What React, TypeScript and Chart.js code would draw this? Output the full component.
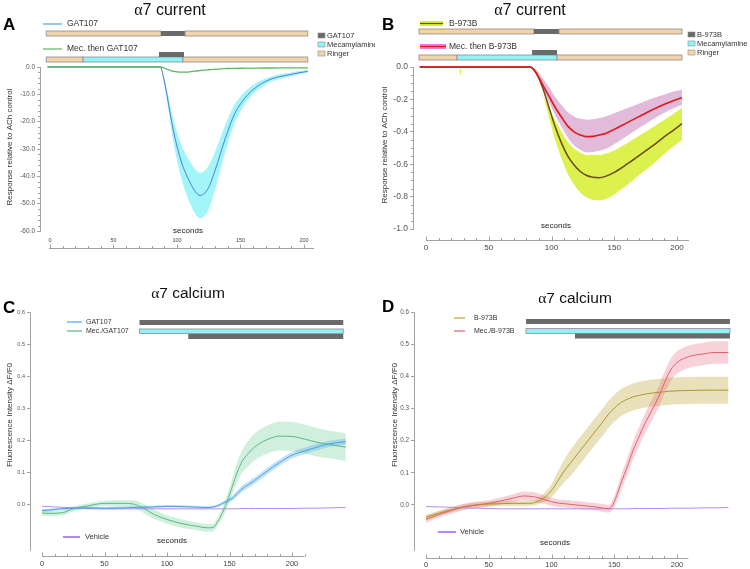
import React, { useEffect, useRef } from "react";
import { Chart, registerables } from "chart.js";

Chart.register(...registerables);

const SANS = '"Liberation Sans", Arial, Helvetica, sans-serif';
const SERIF = '"Liberation Serif", "DejaVu Serif", serif';
const AXIS = "#8a8a8a";
const RINGER = "#f3d3a8";
const MECA = "#8ff4f7";
const DRUG = "#6a6a6a";

// ---------------- Panel A : α7 current, GAT107 ----------------
const aTime = [-2, 20, 40, 60, 80, 87, 89, 92, 95, 97.5, 100, 104, 107, 110, 114, 118, 121, 125, 128, 132, 136, 140, 145, 150, 156, 162, 171, 180, 189, 196, 203];
const aGat107Mean = [0, 0, 0, 0, 0, 0, -3, -10, -18, -24, -29, -35.5, -39, -42, -45.3, -47, -46.5, -44, -40.5, -35, -29, -23.5, -17.5, -13.5, -10, -7.5, -5, -3.6, -2.8, -2.1, -1.6];
const aGat107Err = [0.3, 0.3, 0.3, 0.3, 0.3, 0.3, 0.8, 2, 3.3, 4.3, 5.2, 6.3, 7, 7.6, 8.1, 8.3, 8.3, 8, 7.4, 6.5, 5.5, 4.5, 3.5, 2.7, 2, 1.6, 1.1, 0.9, 0.7, 0.6, 0.5];
const aMecGat107Mean = [0, 0, 0, 0, 0, 0, -0.2, -0.8, -1.3, -1.6, -1.8, -1.9, -1.85, -1.75, -1.5, -1.3, -1.15, -1.0, -0.9, -0.75, -0.65, -0.55, -0.5, -0.45, -0.42, -0.4, -0.37, -0.35, -0.33, -0.31, -0.3];
const aYTicks = [0, -10, -20, -30, -40, -50, -60];
const aProtoGat = [["Ringer", -3, 87.4], ["Drug", 87.4, 106.3], ["Ringer", 106.3, 203]];
const aProtoMec = [["Ringer", -3, 26], ["Mecamylamine", 26, 104.7], ["Ringer", 104.7, 203]];
const aProtoMecDrug = [["Drug", 85.8, 105.5]];

// ---------------- Panel B : α7 current, B-973B ----------------
const bTime = [-5, 10, 26, 27.5, 29, 45, 65, 83, 88, 93, 98, 103, 108, 113, 118, 123, 128, 133, 138, 143, 150, 160, 170, 180, 190, 198, 204];
const bB973Mean = [0, 0, 0, 0, 0, 0, 0, 0, -0.04, -0.13, -0.25, -0.37, -0.47, -0.55, -0.605, -0.645, -0.67, -0.68, -0.683, -0.675, -0.65, -0.6, -0.545, -0.49, -0.43, -0.385, -0.35];
const bB973Err = [0.008, 0.008, 0.008, 0.05, 0.008, 0.008, 0.008, 0.008, 0.02, 0.04, 0.06, 0.08, 0.095, 0.11, 0.12, 0.13, 0.135, 0.14, 0.14, 0.14, 0.135, 0.13, 0.12, 0.115, 0.105, 0.1, 0.1];
const bMecB973Mean = [0, 0, 0, 0, 0, 0, 0, 0, -0.04, -0.11, -0.18, -0.25, -0.31, -0.365, -0.4, -0.42, -0.43, -0.428, -0.42, -0.41, -0.385, -0.345, -0.305, -0.265, -0.23, -0.205, -0.19];
const bMecB973Err = [0.01, 0.01, 0.01, 0.01, 0.01, 0.01, 0.01, 0.01, 0.02, 0.04, 0.055, 0.065, 0.075, 0.085, 0.095, 0.1, 0.105, 0.105, 0.105, 0.105, 0.1, 0.09, 0.08, 0.07, 0.06, 0.055, 0.05];
const bYTicks = [0, -0.2, -0.4, -0.6, -0.8, -1.0];
const bProtoB = [["Ringer", -5.6, 86], ["Drug", 86, 106], ["Ringer", 106, 204]];
const bProtoMec = [["Ringer", -5.6, 24.7], ["Mecamylamine", 24.7, 104.4], ["Ringer", 104.4, 204]];
const bProtoMecDrug = [["Drug", 84.5, 104.4]];

// ---------------- Panel C : α7 calcium, GAT107 ----------------
const cTime = [0, 5, 15, 25, 35, 50, 65, 73, 80, 90, 100, 112, 125, 132, 137, 140, 143, 146, 149, 152, 156, 160, 165, 170, 180, 190, 200, 210, 220, 230, 243];
const cMecGatMean = [-0.025, -0.026, -0.025, -0.012, -0.004, 0.005, 0.005, 0.003, -0.008, -0.03, -0.045, -0.058, -0.067, -0.071, -0.07, -0.055, -0.035, -0.01, 0.02, 0.055, 0.1, 0.135, 0.16, 0.18, 0.203, 0.214, 0.213, 0.205, 0.195, 0.188, 0.18];
const cMecGatErr = [0.008, 0.008, 0.008, 0.008, 0.008, 0.008, 0.01, 0.012, 0.014, 0.014, 0.013, 0.013, 0.012, 0.012, 0.012, 0.013, 0.015, 0.018, 0.02, 0.025, 0.03, 0.035, 0.04, 0.042, 0.044, 0.045, 0.045, 0.045, 0.044, 0.043, 0.043];
const cGatMean = [-0.017, -0.016, -0.012, -0.01, -0.009, -0.01, -0.009, -0.008, -0.007, -0.006, -0.004, -0.005, -0.007, -0.008, -0.006, -0.003, 0.002, 0.008, 0.014, 0.02, 0.035, 0.05, 0.063, 0.076, 0.105, 0.132, 0.155, 0.168, 0.18, 0.19, 0.197];
const cGatErr = [0.004, 0.004, 0.004, 0.004, 0.004, 0.004, 0.004, 0.004, 0.004, 0.004, 0.004, 0.004, 0.004, 0.004, 0.004, 0.004, 0.005, 0.006, 0.007, 0.008, 0.009, 0.01, 0.01, 0.01, 0.01, 0.01, 0.01, 0.01, 0.01, 0.01, 0.01];
const cVehicle = [-0.004, -0.005, -0.007, -0.009, -0.011, -0.012, -0.012, -0.012, -0.012, -0.012, -0.012, -0.012, -0.012, -0.012, -0.012, -0.012, -0.012, -0.012, -0.012, -0.012, -0.012, -0.011, -0.011, -0.011, -0.011, -0.011, -0.011, -0.01, -0.01, -0.009, -0.008];
const cdYTicks = [0, 0.1, 0.2, 0.3, 0.4, 0.5, 0.6];
const cProtoDrug = [["Drug", 78, 241]];
const cProtoMec = [["Mecamylamine", 78, 241]];
const cProtoMecDrug = [["Drug", 117, 241]];

// ---------------- Panel D : α7 calcium, B-973B ----------------
const dTime = [0, 10, 20, 30, 40, 50, 60, 70, 78, 85, 90, 95, 100, 105, 110, 115, 120, 125, 130, 135, 140, 145, 148, 152, 156, 160, 165, 170, 175, 180, 185, 190, 195, 200, 210, 220, 230, 241];
const dB973Mean = [-0.038, -0.026, -0.015, -0.006, 0.0, 0.003, 0.004, 0.005, 0.005, 0.006, 0.012, 0.025, 0.045, 0.075, 0.105, 0.13, 0.155, 0.18, 0.205, 0.23, 0.254, 0.28, 0.293, 0.308, 0.32, 0.328, 0.336, 0.341, 0.345, 0.348, 0.35, 0.352, 0.354, 0.355, 0.356, 0.357, 0.357, 0.357];
const dB973Err = [0.008, 0.008, 0.008, 0.008, 0.008, 0.008, 0.008, 0.008, 0.008, 0.008, 0.01, 0.015, 0.02, 0.028, 0.035, 0.04, 0.042, 0.042, 0.042, 0.042, 0.042, 0.042, 0.042, 0.042, 0.042, 0.042, 0.042, 0.042, 0.042, 0.042, 0.042, 0.042, 0.042, 0.042, 0.042, 0.042, 0.042, 0.042];
const dMecB973Mean = [-0.045, -0.03, -0.017, -0.006, 0.0, 0.005, 0.013, 0.022, 0.028, 0.026, 0.022, 0.016, 0.01, 0.006, 0.004, 0.002, 0.0, -0.002, -0.004, -0.006, -0.009, -0.012, -0.005, 0.03, 0.075, 0.115, 0.17, 0.215, 0.258, 0.295, 0.333, 0.38, 0.42, 0.443, 0.462, 0.469, 0.474, 0.474];
const dMecB973Err = [0.01, 0.01, 0.01, 0.01, 0.01, 0.01, 0.011, 0.012, 0.014, 0.014, 0.014, 0.013, 0.013, 0.012, 0.012, 0.012, 0.012, 0.012, 0.012, 0.012, 0.012, 0.012, 0.014, 0.02, 0.024, 0.026, 0.028, 0.03, 0.031, 0.032, 0.033, 0.034, 0.035, 0.035, 0.035, 0.035, 0.035, 0.035];
const dVehicle = [-0.005, -0.006, -0.007, -0.009, -0.01, -0.011, -0.012, -0.012, -0.012, -0.012, -0.012, -0.012, -0.012, -0.012, -0.012, -0.012, -0.012, -0.012, -0.012, -0.012, -0.012, -0.012, -0.012, -0.012, -0.012, -0.012, -0.011, -0.011, -0.011, -0.011, -0.011, -0.011, -0.01, -0.01, -0.01, -0.009, -0.009, -0.008];
const dProtoDrug = [["Drug", 79.7, 242.2]];
const dProtoMec = [["Mecamylamine", 79.7, 242.2]];
const dProtoMecDrug = [["Drug", 118.7, 242.2]];

const xTickLabels = [0, 50, 100, 150, 200];

// ---------------- helpers ----------------
const segColor = (k: string) => (k === "Ringer" ? RINGER : k === "Mecamylamine" ? MECA : DRUG);

function bandSets(t: number[], m: number[], e: number[], color: string, order: number, edge = "rgba(0,0,0,0)", edgeW = 0) {
  return [
    { data: t.map((x, i) => ({ x, y: m[i] + e[i] })), borderColor: "rgba(0,0,0,0)", borderWidth: 0, fill: false, order, clip: 6 },
    { data: t.map((x, i) => ({ x, y: m[i] - e[i] })), borderColor: edge, borderWidth: edgeW, fill: "-1", backgroundColor: color, order, clip: 6 },
  ];
}
function lineSet(t: number[], m: number[], color: string, width: number, order: number) {
  return { data: t.map((x, i) => ({ x, y: m[i] })), borderColor: color, borderWidth: width, fill: false, order, clip: 6 };
}

function seg(ctx: CanvasRenderingContext2D, x1: number, y1: number, x2: number, y2: number) {
  ctx.beginPath();
  ctx.moveTo(x1, y1);
  ctx.lineTo(x2, y2);
  ctx.stroke();
}

function makeDecor(o: any) {
  return {
    id: "decor",
    afterDraw(chart: any) {
      const ctx = chart.ctx as CanvasRenderingContext2D;
      const xs = chart.scales.x;
      const ys = chart.scales.y;
      const px = (v: number) => xs.getPixelForValue(v);
      const py = (v: number) => ys.getPixelForValue(v);
      const area = chart.chartArea;
      ctx.save();
      ctx.textAlign = "left";
      ctx.textBaseline = "middle";

      // minor y ticks
      if (o.yMinor) {
        const { step, len, major } = o.yMinor;
        ctx.strokeStyle = AXIS;
        ctx.lineWidth = 0.8;
        const n0 = Math.ceil(Math.min(ys.min, ys.max) / step - 1e-6);
        const n1 = Math.floor(Math.max(ys.min, ys.max) / step + 1e-6);
        for (let k = n0; k <= n1; k++) {
          const v = k * step;
          const r = v / major;
          if (Math.abs(r - Math.round(r)) < 1e-6) continue;
          const y = Math.round(py(v)) + 0.5;
          seg(ctx, area.left - len, y, area.left, y);
        }
      }

      // detached x axis
      if (o.xAxis) {
        const a = o.xAxis;
        ctx.strokeStyle = AXIS;
        ctx.lineWidth = 0.8;
        const y = Math.round(a.y) + 0.5;
        seg(ctx, px(a.from), y, px(a.to), y);
        for (let k = 0; k * 10 <= a.to + 1e-6; k++) {
          const v = k * 10;
          const L = v % 50 === 0 ? 4 : 2.5;
          const x = Math.round(px(v)) + 0.5;
          seg(ctx, x, y, x, y - L);
        }
        ctx.fillStyle = "#444";
        ctx.font = `${a.size}px ${SANS}`;
        ctx.textAlign = "center";
        for (const v of xTickLabels) ctx.fillText(String(v), px(v), a.labelY);
        ctx.textAlign = "left";
      }

      // protocol bars
      for (const row of o.protocol || []) {
        for (const s of row.segs) {
          const x0 = px(s[1]);
          const x1 = px(s[2]);
          ctx.fillStyle = segColor(s[0]);
          ctx.fillRect(x0, row.y, x1 - x0, row.h);
          if (s[0] !== "Drug") {
            ctx.strokeStyle = "#8c8c8c";
            ctx.lineWidth = 0.8;
            ctx.strokeRect(x0, row.y, x1 - x0, row.h);
          }
        }
      }

      // keys
      for (const k of o.keys || []) {
        ctx.fillStyle = k.fill;
        ctx.fillRect(k.x, k.y, 7, 5);
        ctx.strokeStyle = "#8c8c8c";
        ctx.lineWidth = 0.6;
        ctx.strokeRect(k.x, k.y, 7, 5);
        ctx.fillStyle = "#333";
        ctx.font = `7.5px ${SANS}`;
        ctx.fillText(k.text, k.x + 9, k.y + 3);
      }

      // legend items
      for (const l of o.legend || []) {
        if (l.box) {
          ctx.fillStyle = l.box;
          ctx.fillRect(l.x1, l.y - 2.5, l.x2 - l.x1, 5);
        }
        ctx.strokeStyle = l.color;
        ctx.lineWidth = l.width;
        seg(ctx, l.x1, l.y, l.x2, l.y);
        ctx.fillStyle = "#333";
        ctx.font = `${l.size}px ${SANS}`;
        ctx.fillText(l.text, l.tx, l.y);
      }

      // texts
      for (const t of o.texts || []) {
        ctx.fillStyle = "#222";
        ctx.font = `${t.size}px ${SANS}`;
        ctx.textAlign = "center";
        ctx.fillText(t.text, t.x, t.y);
        ctx.textAlign = "left";
      }

      // panel letter
      ctx.fillStyle = "#000";
      ctx.font = `bold 17px ${SANS}`;
      ctx.fillText(o.letter.text, o.letter.x, o.letter.y);

      // title: serif alpha + sans rest
      {
        const sz = o.title.size;
        ctx.font = `${sz}px ${SERIF}`;
        const wa = ctx.measureText("α").width;
        ctx.font = `${sz}px ${SANS}`;
        const wr = ctx.measureText(o.title.rest).width;
        const x0 = o.title.x - (wa + wr) / 2;
        ctx.fillStyle = "#111";
        ctx.font = `${sz}px ${SERIF}`;
        ctx.fillText("α", x0, o.title.y);
        ctx.font = `${sz}px ${SANS}`;
        ctx.fillText(o.title.rest, x0 + wa, o.title.y);
      }

      // y title
      {
        const t = o.yTitle;
        ctx.save();
        ctx.translate(t.x, t.y);
        ctx.rotate(-Math.PI / 2);
        ctx.textAlign = "center";
        ctx.fillStyle = "#333";
        ctx.font = `${t.size}px ${SANS}`;
        ctx.fillText(t.text, 0, 0);
        ctx.restore();
      }
      ctx.restore();
    },
  };
}

function makeConfig(p: any, datasets: any[]) {
  return {
    type: "line",
    data: { datasets },
    options: {
      responsive: false,
      animation: false,
      devicePixelRatio: 1,
      events: [],
      layout: { padding: { left: 0, right: p.padR, top: p.padT, bottom: p.padB } },
      plugins: { legend: { display: false }, tooltip: { enabled: false } },
      elements: { point: { radius: 0 }, line: { cubicInterpolationMode: "monotone" } },
      scales: {
        x: { type: "linear", display: false, min: p.xMin, max: p.xMax },
        y: {
          type: "linear",
          position: "left",
          min: p.yMin,
          max: p.yMax,
          afterFit: (s: any) => {
            s.width = p.yW;
          },
          afterBuildTicks: (s: any) => {
            s.ticks = p.yTicks.map((v: number) => ({ value: v }));
          },
          ticks: {
            font: { family: SANS, size: p.yFont },
            color: "#555",
            padding: 2,
            autoSkip: false,
            callback: (v: any) => Number(v).toFixed(1),
          },
          grid: { drawOnChartArea: false, tickLength: 3, color: AXIS, lineWidth: 0.8 },
          border: { color: AXIS, width: 0.8 },
        },
      },
    },
    plugins: [makeDecor(p.decor)],
  };
}

// ---------------- panel specs ----------------
function configA() {
  const ds = [
    lineSet(aTime, aMecGat107Mean, "#5cb85c", 1.3, 0),
    lineSet(aTime, aGat107Mean, "#4a6fcf", 0.9, 1),
    ...bandSets(aTime, aGat107Mean, aGat107Err, "#a2f6f9", 10),
  ];
  return makeConfig(
    {
      padR: 55, padT: 67, padB: 54, yW: 40, yFont: 6.5,
      xMin: -7.874, xMax: 212.6, yMin: -60, yMax: 0, yTicks: aYTicks,
      decor: {
        letter: { text: "A", x: 3, y: 25 },
        title: { rest: "7 current", x: 170, y: 11, size: 16 },
        yTitle: { text: "Response relative to ACh control", x: 10, y: 147, size: 8 },
        yMinor: { step: 2, len: 2, major: 10 },
        xAxis: { y: 248, from: -0.8, to: 208, labelY: 240, size: 5.5 },
        protocol: [
          { y: 31, h: 5, segs: aProtoGat },
          { y: 57, h: 5, segs: aProtoMec },
          { y: 52, h: 5, segs: aProtoMecDrug },
        ],
        keys: [
          { x: 318, y: 33, fill: DRUG, text: "GAT107" },
          { x: 318, y: 42, fill: MECA, text: "Mecamylamine" },
          { x: 318, y: 51, fill: RINGER, text: "Ringer" },
        ],
        legend: [
          { x1: 43, x2: 62, y: 24, color: "#4aa8f0", width: 1.2, text: "GAT107", tx: 67, size: 8.5 },
          { x1: 43, x2: 62, y: 49, color: "#5cb85c", width: 1.2, text: "Mec. then GAT107", tx: 67, size: 8.5 },
        ],
        texts: [{ text: "seconds", x: 188, y: 230.5, size: 8 }],
      },
    },
    ds
  );
}

function configB() {
  const ds = [
    lineSet(bTime, bMecB973Mean, "#e01818", 1.6, 1),
    lineSet(bTime, bB973Mean, "#6b4a1a", 1.5, 2),
    ...bandSets(bTime, bMecB973Mean, bMecB973Err, "#e2bada", 8, "#ffffff", 2.5),
    ...bandSets(bTime, bB973Mean, bB973Err, "#dcf04e", 10),
  ];
  return makeConfig(
    {
      padR: 55, padT: 67, padB: 56, yW: 38, yFont: 8.5,
      xMin: -10.36, xMax: 214.34, yMin: -1, yMax: 0, yTicks: bYTicks,
      decor: {
        letter: { text: "B", x: 7, y: 25 },
        title: { rest: "7 current", x: 155, y: 11, size: 16 },
        yTitle: { text: "Response relative to ACh control", x: 10, y: 145, size: 8 },
        yMinor: { step: 0.05, len: 2, major: 0.2 },
        xAxis: { y: 240, from: 0, to: 209.6, labelY: 247.5, size: 8 },
        protocol: [
          { y: 29, h: 5, segs: bProtoB },
          { y: 55, h: 5, segs: bProtoMec },
          { y: 50, h: 5, segs: bProtoMecDrug },
        ],
        keys: [
          { x: 313, y: 32, fill: DRUG, text: "B-973B" },
          { x: 313, y: 41, fill: MECA, text: "Mecamylamine" },
          { x: 313, y: 50, fill: RINGER, text: "Ringer" },
        ],
        legend: [
          { x1: 45, x2: 68, y: 23.5, color: "#6b4a1a", box: "#d4f04a", width: 1.2, text: "B-973B", tx: 74, size: 8.5 },
          { x1: 45, x2: 71, y: 46.5, color: "#e01818", box: "#e07ee6", width: 1.2, text: "Mec. then B-973B", tx: 74, size: 8.5 },
        ],
        texts: [{ text: "seconds", x: 181, y: 226, size: 8 }],
      },
    },
    ds
  );
}

function configC() {
  const ds = [
    lineSet(cTime, cGatMean, "#4ca0e0", 1, 1),
    lineSet(cTime, cMecGatMean, "#5db882", 1, 2),
    lineSet(cTime, cVehicle, "#b48af0", 1, 3),
    ...bandSets(cTime, cGatMean, cGatErr, "rgba(80,170,240,0.35)", 8),
    ...bandSets(cTime, cMecGatMean, cMecGatErr, "rgba(110,205,150,0.32)", 10),
  ];
  return makeConfig(
    {
      padR: 25, padT: 27, padB: 19, yW: 30, yFont: 5.5,
      xMin: -9.6, xMax: 246.4, yMin: -0.14, yMax: 0.6, yTicks: cdYTicks,
      decor: {
        letter: { text: "C", x: 3, y: 23 },
        title: { rest: "7 calcium", x: 188, y: 9, size: 15.5 },
        yTitle: { text: "Fluorescence Intensity ΔF/F0", x: 10, y: 130, size: 8 },
        xAxis: { y: 271, from: 0, to: 210, labelY: 278.5, size: 7.5 },
        protocol: [
          { y: 35, h: 5, segs: cProtoDrug },
          { y: 44, h: 4.5, segs: cProtoMec },
          { y: 49, h: 5, segs: cProtoMecDrug },
        ],
        keys: [],
        legend: [
          { x1: 67, x2: 82, y: 37, color: "#4aa8f0", width: 1.2, text: "GAT107", tx: 86, size: 7 },
          { x1: 67, x2: 82, y: 46, color: "#5cb882", width: 1.2, text: "Mec./GAT107", tx: 86, size: 7 },
          { x1: 63, x2: 80, y: 252, color: "#b48af0", width: 2, text: "Vehicle", tx: 85, size: 7.5 },
        ],
        texts: [{ text: "seconds", x: 172, y: 256, size: 8 }],
      },
    },
    ds
  );
}

function configD() {
  const ds = [
    lineSet(dTime, dMecB973Mean, "#e0606e", 1, 1),
    lineSet(dTime, dB973Mean, "#a89a28", 1, 2),
    lineSet(dTime, dVehicle, "#b48af0", 1, 3),
    ...bandSets(dTime, dMecB973Mean, dMecB973Err, "rgba(230,110,130,0.3)", 8),
    ...bandSets(dTime, dB973Mean, dB973Err, "rgba(190,170,60,0.35)", 10),
  ];
  return makeConfig(
    {
      padR: 17, padT: 27, padB: 19, yW: 39, yFont: 6.3,
      xMin: -9.56, xMax: 244.6, yMin: -0.14, yMax: 0.6, yTicks: cdYTicks,
      decor: {
        letter: { text: "D", x: 7, y: 22 },
        title: { rest: "7 calcium", x: 200, y: 14, size: 15.5 },
        yTitle: { text: "Fluorescence Intensity ΔF/F0", x: 20, y: 130, size: 8 },
        xAxis: { y: 273, from: 0, to: 209, labelY: 279.5, size: 7.5 },
        protocol: [
          { y: 34, h: 5, segs: dProtoDrug },
          { y: 43.5, h: 5, segs: dProtoMec },
          { y: 48.5, h: 5, segs: dProtoMecDrug },
        ],
        keys: [],
        legend: [
          { x1: 79, x2: 90, y: 33, color: "#b0a030", width: 1.2, text: "B-973B", tx: 99, size: 7 },
          { x1: 79, x2: 90, y: 46, color: "#e06070", width: 1.2, text: "Mec./B-973B", tx: 99, size: 7 },
          { x1: 63, x2: 81, y: 247, color: "#b48af0", width: 2, text: "Vehicle", tx: 85, size: 7.5 },
        ],
        texts: [{ text: "seconds", x: 180, y: 258, size: 8 }],
      },
    },
    ds
  );
}

function ChartCanvas(props: { left: number; top: number; w: number; h: number; make: () => any }) {
  const ref = useRef<HTMLCanvasElement | null>(null);
  useEffect(() => {
    if (!ref.current) return;
    const chart = new Chart(ref.current, props.make());
    return () => chart.destroy();
  }, []);
  return (
    <canvas
      ref={ref}
      width={props.w}
      height={props.h}
      style={{ position: "absolute", left: props.left, top: props.top, width: props.w, height: props.h }}
    />
  );
}

export default function App() {
  return (
    <div style={{ position: "fixed", left: 0, top: 0, width: 750, height: 569, background: "#ffffff", overflow: "hidden" }}>
      <ChartCanvas left={0} top={0} w={375} h={285} make={configA} />
      <ChartCanvas left={375} top={0} w={375} h={285} make={configB} />
      <ChartCanvas left={0} top={285} w={375} h={284} make={configC} />
      <ChartCanvas left={375} top={285} w={375} h={284} make={configD} />
    </div>
  );
}
